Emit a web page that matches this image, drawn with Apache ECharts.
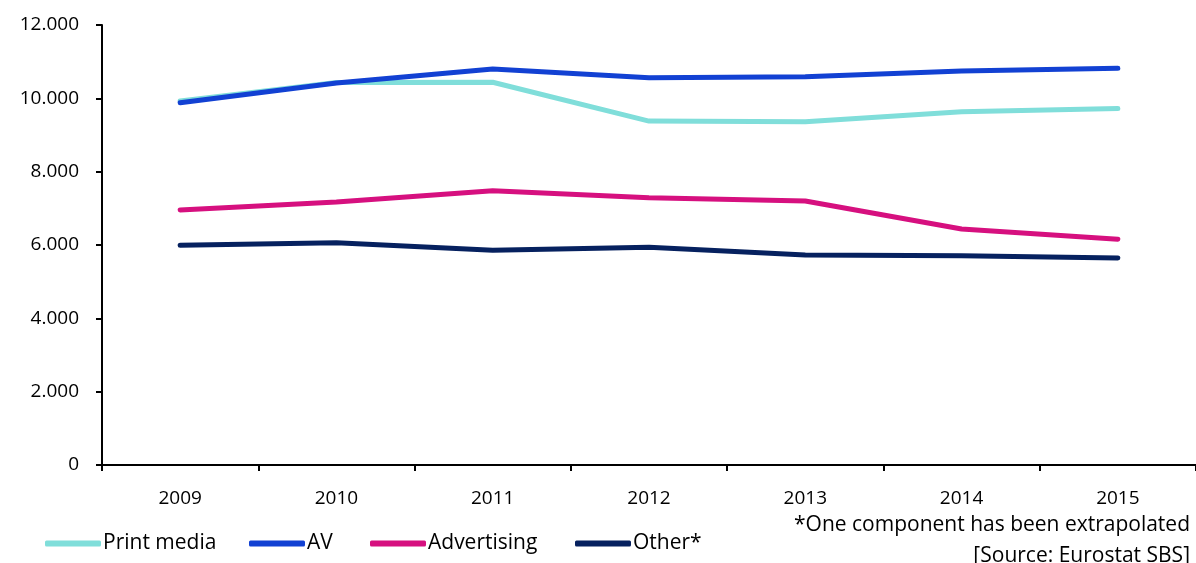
<!DOCTYPE html>
<html>
<head>
<meta charset="utf-8">
<script src="https://cdn.jsdelivr.net/npm/echarts@6/dist/echarts.min.js"></script>
<style>
  html, body { margin: 0; padding: 0; background: #fff; }
  #chart { width: 1196px; height: 563px; }
</style>
</head>
<body>
<div id="chart"></div>
<script>
const years = ['2009', '2010', '2011', '2012', '2013', '2014', '2015'];
const printMedia = [9930, 10430, 10440, 9380, 9360, 9635, 9720];
const av = [9880, 10420, 10800, 10560, 10590, 10745, 10820];
const advertising = [6955, 7170, 7480, 7290, 7200, 6435, 6160];
const other = [5990, 6060, 5855, 5940, 5730, 5710, 5645];
const seriesNames = ['Print media', 'AV', 'Advertising', 'Other*'];
const yTicks = { min: 0, max: 12000, step: 2000 };

const font = '"Open Sans", "Noto Sans", sans-serif';

function fmt(v) {
  // thousands separator is a dot
  return String(v).replace(/\B(?=(\d{3})+(?!\d))/g, '.');
}

function line(name, data, color) {
  return {
    name: name,
    type: 'line',
    data: data,
    symbol: 'none',
    lineStyle: { color: color, width: 5, cap: 'round', join: 'round' },
    itemStyle: { color: color },
    animation: false
  };
}

// one legend per item so each sits where the original puts it
const legendLeft = [45, 249, 370, 575];
const legends = seriesNames.map((n, i) => ({
  left: legendLeft[i],
  top: 533,
  padding: 0,
  icon: 'roundRect',
  itemWidth: 56,
  itemHeight: 6,
  itemGap: 0,
  textStyle: { color: '#000', fontSize: 21, fontFamily: font, padding: [0, 0, 0, -3] },
  data: [n]
}));

const chart = echarts.init(document.getElementById('chart'));
chart.setOption({
  backgroundColor: '#fff',
  grid: { left: 102, right: -5, top: 25, bottom: 98, containLabel: false },
  xAxis: {
    type: 'category',
    data: years,
    boundaryGap: true,
    axisLine: { lineStyle: { color: '#000', width: 2 } },
    axisTick: { show: true, length: 6, inside: false, lineStyle: { color: '#000', width: 2 } },
    axisLabel: { color: '#000', fontSize: 19, fontFamily: font, margin: 24 },
    splitLine: { show: false }
  },
  yAxis: {
    type: 'value',
    min: yTicks.min,
    max: yTicks.max,
    interval: yTicks.step,
    axisLine: { show: true, lineStyle: { color: '#000', width: 2 } },
    axisTick: { show: true, length: 6, lineStyle: { color: '#000', width: 2 } },
    axisLabel: { color: '#000', fontSize: 19, fontFamily: font, margin: 23, formatter: fmt },
    splitLine: { show: false }
  },
  legend: legends,
  graphic: [
    {
      type: 'text', right: 6, top: 515,
      style: { text: '*One component has been extrapolated', fill: '#000', fontSize: 21, fontFamily: font, textAlign: 'right' }
    },
    {
      type: 'text', right: 6, top: 546,
      style: { text: '[Source: Eurostat SBS]', fill: '#000', fontSize: 21, fontFamily: font, textAlign: 'right' }
    }
  ],
  series: [
    line(seriesNames[0], printMedia, '#80DEDA'),
    line(seriesNames[1], av, '#1241D3'),
    line(seriesNames[2], advertising, '#D6107F'),
    line(seriesNames[3], other, '#06215F')
  ]
});
</script>
</body>
</html>
